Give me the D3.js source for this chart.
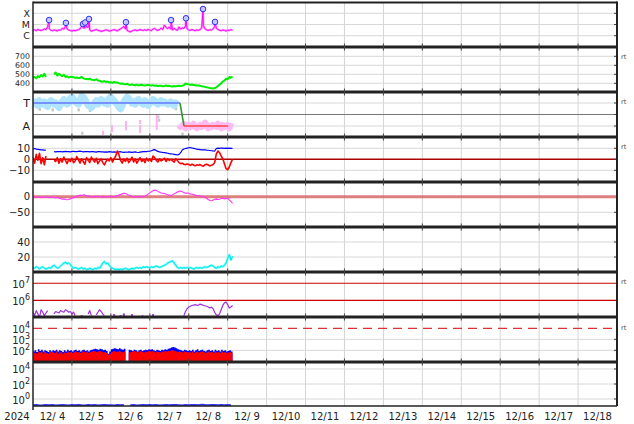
<!DOCTYPE html>
<html><head><meta charset="utf-8">
<script src="https://cdn.jsdelivr.net/npm/d3@7"></script>
<style>body{margin:0;background:#fff}svg{display:block}text{font-family:"DejaVu Sans",sans-serif}</style>
</head><body><svg id="c" width="634" height="424"></svg>
<script>
// ---------- DATA (hourly from 2024-12-04 00:00 UT, index = hour) ----------
const dayLabels = ["12/ 4","12/ 5","12/ 6","12/ 7","12/ 8","12/ 9","12/10","12/11","12/12","12/13","12/14","12/15","12/16","12/17","12/18"];
const yearLabel = "2024";
const xrayLevels = ["X","M","C"];
// X-ray background flux in C-class units (x1e-6 W/m2)
const xrayBaseC = [
 3.0,3.4,2.8,3.6,3.1,2.9,3.3,4.0,3.5,6.0,4.2,3.1,
 2.8,3.2,3.0,2.7,3.3,3.1,4.5,3.8,7.0,4.0,3.2,2.9,
 2.6,3.0,2.8,3.1,3.4,4.2,6.5,5.0,4.8,6.0,5.5,3.2,
 2.5,2.9,3.1,3.6,3.0,2.8,2.4,2.7,2.9,3.3,3.0,2.6,
 2.8,3.1,3.5,3.0,2.7,3.4,4.1,5.2,6.8,4.0,3.0,2.5,
 2.2,2.6,3.0,3.3,2.8,3.1,3.5,3.2,2.9,3.4,3.0,3.6,
 3.2,2.8,3.9,4.4,3.3,3.0,3.6,4.8,3.5,9.0,5.5,4.2,
 6.0,3.8,3.2,4.5,3.5,3.0,6.0,3.8,5.0,4.4,7.5,4.0,
 3.2,3.0,3.5,3.1,2.8,3.3,3.0,3.6,5.0,8.0,4.2,3.3,
 3.0,3.4,3.2,4.0,7.0,4.5,3.6,3.1,2.8,3.3,3.0,2.6,
 3.2,2.9,3.4,3.1];
// flare peaks
const flareHours = [9.9,20.3,30.8,32.1,34.5,57.3,85.1,94.3,104.8,112.2];
const flareFlux  = [2.5e-5,1.4e-5,1.1e-5,1.5e-5,3.1e-5,1.6e-5,2.5e-5,3.6e-5,2.4e-4,1.7e-5];
// solar wind speed km/s
const windSpeed = [
 462,470,455,480,468,492,475,505,470,null,null,null,
 null,500,520,485,505,490,480,495,470,478,465,472,
 470,468,460,465,458,462,470,455,450,448,445,452,
 440,438,435,445,432,428,420,418,425,415,420,410,
 412,405,415,408,410,400,395,398,392,388,395,385,
 382,388,380,378,385,376,380,383,378,375,380,382,
 378,375,380,372,376,370,374,372,368,371,375,370,
 372,368,365,370,366,369,372,370,373,380,398,392,
 388,384,386,380,378,375,377,372,368,365,360,355,
 352,348,345,342,348,355,370,385,400,420,430,452,
 445,470,462,475];
// IMF sector (T = +1, A = -1)
const sectorAxis = ["T","A"];
const imfToward = [
 1.0,1.1,0.9,0.8,1.2,1.0,0.9,1.1,0.8,0.7,1.0,1.2,
 1.1,0.9,1.0,0.8,0.6,0.9,1.1,1.3,1.2,0.9,1.0,1.4,
 1.5,1.3,1.1,1.0,0.9,1.2,1.6,1.5,1.3,1.0,0.8,0.7,
 0.6,0.8,1.0,1.2,0.9,1.1,1.3,1.2,1.0,1.1,0.9,1.4,
 1.5,1.3,1.2,1.0,0.9,0.6,0.5,0.8,1.1,1.3,1.5,1.4,
 1.2,1.0,1.1,0.9,1.2,1.3,1.1,1.0,0.9,1.2,1.0,0.8,
 1.0,1.1,1.3,1.2,1.0,0.9,1.1,1.2,1.0,1.1,1.0,0.9,
 1.0,1.1,0.9,0.8,1.0,0.9];
const imfAwayStart = 90;
const imfAway = [
 -0.9,-1.1,-1.0,-0.8,-1.2,-1.0,-0.9,-1.1,-1.0,-0.8,-1.1,-1.2,
 -1.0,-0.9,-1.1,-1.0,-0.7,-0.9,-1.2,-1.0,-1.1,-0.9,-1.0,-1.1,
 -0.8,-1.0,-1.2,-0.9,-1.1,-1.0,-0.9,-1.2,-1.0,-1.1];
const imfPinkHours = [43.2,48.7,48.7,57.3,57.3,57.3,66,66,66,76.3,76.3,76.3,76.3];
const imfPinkVals  = [-1.6,-1.35,-1.1,-0.9,-1.2,-0.74,-0.65,-1.09,-1.43,-0.22,-0.56,-0.91,-1.17];
const imfGreyHours = [30.2,77,77.5,28,35,55,58,88,92,4,12,47];
const imfGreyVals  = [-1.63,-0.22,-0.5,0.4,0.35,0.45,1.95,0.5,-1.7,0.45,0.4,1.9];
const sectorHours  = [0,90.6,93.1,120.2];
const sectorValues = [1,1,-1,-1];
// IMF Bt and Bz (nT)
const imfBt = [
 9.5,9.8,9.2,9.0,8.8,8.6,8.5,8.4,8.2,null,null,null,
 null,6.9,6.8,7.0,6.9,7.1,6.8,7.0,7.2,6.9,7.0,6.8,
 7.1,7.3,7.0,6.9,7.2,7.4,7.1,6.8,7.0,6.9,7.1,6.7,
 6.9,7.0,6.8,6.6,6.9,7.0,6.8,6.7,6.5,6.8,6.6,6.9,
 6.7,6.5,6.8,6.6,6.4,6.7,6.9,6.5,6.3,6.6,6.4,6.7,
 6.5,6.3,6.6,6.8,6.4,6.2,6.5,6.7,6.9,7.1,7.0,7.3,
 7.5,7.8,8.5,8.8,7.9,7.2,6.8,6.5,6.2,6.0,5.8,5.5,
 5.2,5.0,4.8,4.5,4.2,3.9,4.5,6.0,8.5,9.4,9.8,10.2,
 10.5,10.6,10.3,10.0,9.6,9.2,9.0,8.8,8.6,8.5,8.7,8.4,
 8.2,8.0,7.8,7.6,7.5,9.8,10.2,10.0,10.3,10.1,9.9,10.2,
 10.0,10.1,9.9,10.0];
const imfBz = [
 2.0,-3.5,4.5,-1.0,5.5,-4.0,1.5,-5.0,3.0,null,null,null,
 null,-1.0,-2.0,1.5,-3.5,0.5,-2.5,2.0,-1.0,-4.0,0.0,-2.0,
 1.0,-3.0,-1.5,2.5,-0.5,-3.5,0.5,-2.0,-4.5,1.5,-1.0,-3.0,
 2.0,-0.5,-2.5,1.0,-4.0,-1.5,0.5,-3.0,-5.0,-2.0,0.0,-1.5,
 1.5,-2.5,0.5,3.0,7.5,4.0,-1.0,-3.5,0.5,-2.0,1.0,-3.0,
 -1.0,2.0,-2.5,0.5,-3.5,-1.0,1.5,-2.0,0.0,-3.0,1.0,-1.5,
 0.5,-2.0,3.0,1.5,-1.0,-2.5,0.5,-1.5,-0.5,1.0,-2.0,0.5,
 -1.0,0.0,-1.5,-2.5,0.5,-1.0,-3.0,-4.0,-3.5,-4.5,-5.0,-4.2,
 -4.8,-5.5,-4.5,-5.2,-6.0,-5.0,-5.5,-4.8,-5.8,-6.2,-5.0,-4.5,
 -5.2,-6.0,-5.5,-4.8,-3.0,5.0,7.5,6.0,3.0,0.5,-4.0,-8.5,
 -9.5,-7.0,-3.0,0.0];
// Dst (nT)
const dst = [
 -1,0,-2,-1,0,-3,-2,-1,0,-2,-3,-2,
 -1,-3,-4,-2,-5,-6,-8,-7,-9,-10,-9,-7,
 -5,-3,-1,1,3,5,4,6,5,3,1,2,
 0,-1,1,0,2,0,-1,1,0,-2,0,1,
 2,0,-1,1,3,5,7,9,11,10,8,5,
 3,1,0,-1,0,1,0,-1,1,2,4,8,
 12,16,19,21,20,17,14,12,11,10,8,6,
 5,4,6,9,12,15,17,18,16,13,11,12,
 11,9,8,7,5,4,3,2,1,0,-2,-5,
 -9,-12,-13,-11,-8,-7,-9,-8,-6,-5,-7,-6,
 -5,-10,-16,-21];
// solar wind density-type index
const density = [
 6,5,7,6,4,6,7,5,4,5,6,5,
 8,9,7,5,6,8,10,12,13,11,12,10,
 7,5,6,5,4,5,6,4,5,3,4,5,
 4,3,5,4,6,5,8,12,14,11,12,9,
 6,5,4,3,4,3,4,3,4,5,4,3,
 4,5,4,5,6,5,6,5,7,6,7,6,
 6,7,6,7,8,7,6,7,8,9,10,12,
 13,14,15,12,9,6,5,6,5,6,5,6,
 5,6,5,4,5,6,5,6,5,6,7,6,
 7,8,9,8,6,5,7,6,8,7,9,12,
 18,23,16,21];
// >2 MeV electron flux (x1e5)
const electronFlux = [
 2.0,1.26,2.5,1.6,1.0,2.8,2.0,1.26,1.8,2.5,null,null,
 null,1.6,2.2,2.0,1.8,2.5,2.2,2.0,2.8,2.5,2.0,2.2,
 1.6,2.0,1.26,null,null,null,1.1,null,null,null,1.6,2.5,
 1.26,null,null,1.4,2.0,2.8,2.2,1.6,1.26,null,null,null,
 null,null,1.26,null,null,null,1.1,null,1.4,null,null,null,
 null,1.26,null,null,null,null,null,1.1,1.26,null,null,null,
 null,null,1.26,null,null,null,null,null,null,null,null,null,
 null,null,null,null,null,null,null,null,null,1.26,2.2,3.2,
 4.0,4.5,5.0,5.2,5.6,5.0,5.2,6.0,5.6,5.0,4.8,4.5,
 4.0,3.5,4.0,3.2,2.0,1.4,1.26,1.6,2.8,5.0,7.1,8.0,
 5.6,3.5,4.0,5.0];
// proton flux (log10) two channels
const protonBlueLog = [
 1.9,2.0,1.85,2.1,1.95,2.05,1.9,2.0,1.95,1.85,2.0,1.9,
 2.0,1.95,2.05,1.9,2.0,1.95,1.85,2.0,1.9,2.05,1.95,2.0,
 1.9,2.0,2.05,1.95,2.0,1.9,2.0,2.05,1.95,2.0,1.9,2.0,
 2.05,2.1,2.15,2.1,2.05,2.15,2.1,2.0,2.05,1.95,1.7,1.9,
 2.1,2.15,2.2,2.15,2.1,2.2,2.1,2.05,2.15,1.0,1.0,2.05,
 2.0,1.95,2.05,2.0,1.9,2.0,2.05,1.95,2.0,2.05,2.0,2.1,
 2.05,2.1,2.0,1.95,2.05,2.0,1.95,2.05,2.0,2.1,2.05,2.15,
 2.2,2.25,2.3,2.25,2.2,2.1,2.05,2.0,1.95,2.05,2.0,1.95,
 2.0,1.95,2.05,1.9,2.0,2.1,1.95,2.0,2.05,1.95,1.9,2.0,
 2.05,1.95,2.0,1.9,2.05,1.95,2.0,1.9,2.05,1.95,2.0,1.9,
 1.95,2.0,1.9,2.0];
const protonRedLog = [
 1.8,1.75,1.7,1.9,1.8,1.85,1.7,1.85,1.75,1.7,1.85,1.8,
 1.85,1.75,1.9,1.7,1.8,1.85,1.7,1.8,1.75,1.9,1.8,1.85,
 1.75,1.85,1.9,1.8,1.85,1.75,1.9,1.85,1.8,1.9,1.75,1.85,
 1.9,1.95,1.9,1.85,1.9,1.95,1.85,1.8,1.85,1.75,1.6,1.7,
 1.85,1.9,1.95,1.85,1.9,1.95,1.85,1.8,1.9,1.0,1.0,1.8,
 1.85,1.9,1.95,1.85,1.8,1.9,1.95,1.85,1.8,1.9,1.85,1.95,
 1.9,1.95,1.85,1.8,1.9,1.85,1.8,1.9,1.85,1.95,1.9,1.95,
 1.95,2.0,2.0,1.95,1.9,1.85,1.9,1.85,1.8,1.9,1.85,1.8,
 1.85,1.8,1.9,1.75,1.85,1.9,1.8,1.85,1.9,1.8,1.75,1.85,
 1.9,1.8,1.85,1.75,1.9,1.8,1.85,1.75,1.9,1.8,1.85,1.75,
 1.8,1.85,1.75,1.85];
// bottom panel flux (2-hourly)
const bottomFlux = [
 0.15,0.16,0.14,0.15,0.17,0.15,0.16,0.14,0.15,0.16,0.15,0.14,
 0.16,0.15,0.17,0.15,0.14,0.16,0.15,0.16,0.14,0.15,0.16,0.15,
 0.15,0.14,0.16,0.15,0.17,null,0.15,0.16,0.14,0.15,0.16,0.15,
 0.17,0.15,0.16,0.14,0.15,0.16,0.15,0.17,0.16,0.15,0.14,0.16,
 0.15,0.17,0.16,0.15,0.18,0.16,0.15,0.17,0.16,0.15,0.16,0.15,
 0.16,0.15];

// ---------- LAYOUT ----------
const svg = d3.select("#c");
const L = 33, R = 617;
const edges = [2.5,47,92,137,182,227,272,317,362,406];
const T0 = Date.UTC(2024,11,4);
const hd = h => new Date(T0 + h*3600000);
const x = d3.scaleUtc().domain([hd(0), new Date(Date.UTC(2024,11,19))]).range([L,R]);

const defs = svg.append("defs");
edges.slice(0,-1).forEach((t,i)=>{
  defs.append("clipPath").attr("id","cp"+i).append("rect")
    .attr("x",L).attr("y",t).attr("width",R-L).attr("height",edges[i+1]-t);
});

// scales
const y1 = d3.scaleLog().domain([1e-7,1e-3]).range([46.9,2.1]);
const y2 = d3.scaleLinear().domain([300,800]).range([92.3,47.3]);
const y3 = d3.scaleLinear().domain([-2,2]).range([137.5,91.5]);
const y4 = d3.scaleLinear().domain([-20,20]).range([181.3,137.3]);
const y5 = d3.scaleLinear().domain([-97,47]).range([227,182]);
const y6 = d3.scaleLinear().domain([0,60]).range([272,227]);
const y7 = d3.scaleLog().domain([Math.pow(10,5.02),Math.pow(10,7.66)]).range([317,272]);
const y8 = d3.scaleLog().domain([Math.pow(10,0.94),Math.pow(10,5.03)]).range([362,317]);
const y9 = d3.scaleLog().domain([Math.pow(10,-0.93),Math.pow(10,4.93)]).range([406,362]);

const grid = svg.append("g");
// vertical day grid
const days = d3.utcDay.range(new Date(Date.UTC(2024,11,5)), new Date(Date.UTC(2024,11,19)));
grid.selectAll("line.v").data(days).join("line")
  .attr("x1",d=>x(d)).attr("x2",d=>x(d)).attr("y1",edges[0]).attr("y2",edges[9])
  .attr("stroke","#d4d4d4").attr("stroke-width",1);
function hgrid(scale, vals, color, w, dash){
  vals.forEach(v=>{
    const l = grid.append("line").attr("x1",L).attr("x2",R).attr("y1",scale(v)).attr("y2",scale(v))
      .attr("stroke",color).attr("stroke-width",w);
    if(dash) l.attr("stroke-dasharray",dash);
    grid.append("line").attr("x1",R-3).attr("x2",R).attr("y1",scale(v)).attr("y2",scale(v)).attr("stroke","#444");
  });
}
hgrid(y1,[1e-4,1e-5,1e-6],"#d8d8d8",1);
hgrid(y2,[400,500,600,700],"#d8d8d8",1);
hgrid(y3,[1,-1],"#d8d8d8",1);
hgrid(y3,[0],"#777",1.2);
hgrid(y4,[10,-10],"#d8d8d8",1);
hgrid(y4,[0],"#aa0000",1.5);
hgrid(y5,[-50],"#d8d8d8",1);
hgrid(y6,[20,40],"#d8d8d8",1);
hgrid(y8,[1e2,1e3],"#d8d8d8",1);
hgrid(y9,[1,1e2,1e4],"#d8d8d8",1);

const data = svg.append("g");
function panel(i){ return data.append("g").attr("clip-path","url(#cp"+i+")"); }
function series(vals, step, start){ return vals.map((v,k)=>({h:(start||0)+k*step, v})); }
function line(g, pts, ys, color, w){
  g.append("path").datum(pts)
   .attr("d", d3.line().defined(d=>d.v!=null).x(d=>x(hd(d.h))).y(d=>ys(d.v)))
   .attr("fill","none").attr("stroke",color).attr("stroke-width",w).attr("stroke-linejoin","round");
}

// panel 1 X-ray
{
  const g = panel(0);
  const pts = series(xrayBaseC,1).map(d=>({h:d.h, v:d.v*1e-6}))
    .concat(flareHours.map((h,k)=>({h, v:flareFlux[k]}))).sort((a,b)=>a.h-b.h);
  line(g, pts, y1, "#ff99ff", 2.2);
  line(g, pts, y1, "#ff00ff", 1);
  g.selectAll("circle").data(flareHours).join("circle")
   .attr("cx",h=>x(hd(h))).attr("cy",(h,k)=>y1(flareFlux[k])).attr("r",2.8)
   .attr("fill","#c8c8ff").attr("stroke","#3030ff").attr("stroke-width",1);
}
// panel 2 speed
{
  const g = panel(1);
  line(g, series(windSpeed,1), y2, "#00ee00", 2);
}
// panel 3 sector
{
  const g = panel(2);
  g.selectAll("rect.gr").data(imfGreyHours).join("rect")
   .attr("x",h=>x(hd(h))-1).attr("y",(h,k)=>y3(imfGreyVals[k])-1.5).attr("width",2.5).attr("height",3)
   .attr("fill","#c8c8c8");
  const tb = series(imfToward,1);
  g.append("path").datum(tb).attr("d",d3.line().x(d=>x(hd(d.h))).y(d=>y3(d.v)))
   .attr("fill","none").attr("stroke","#b0e4ff").attr("stroke-width",7).attr("stroke-linejoin","round");
  const ab = series(imfAway,1,imfAwayStart);
  g.append("path").datum(ab).attr("d",d3.line().x(d=>x(hd(d.h))).y(d=>y3(d.v)))
   .attr("fill","none").attr("stroke","#ffbaf2").attr("stroke-width",6).attr("stroke-linejoin","round");
  g.selectAll("rect.pk").data(imfPinkHours).join("rect")
   .attr("x",h=>x(hd(h))-1).attr("y",(h,k)=>y3(imfPinkVals[k])-2).attr("width",2).attr("height",4)
   .attr("fill","#ffb0f0");
  const segColors = ["#6677ff","#339933","#ff4444"];
  for(let k=0;k<sectorHours.length-1;k++){
    g.append("line").attr("x1",x(hd(sectorHours[k]))).attr("x2",x(hd(sectorHours[k+1])))
     .attr("y1",y3(sectorValues[k])).attr("y2",y3(sectorValues[k+1]))
     .attr("stroke",segColors[k]).attr("stroke-width",1.6);
  }
}
// panel 4 IMF
{
  const g = panel(3);
  line(g, series(imfBt,1), y4, "#0000ff", 1.2);
  line(g, series(imfBz,1), y4, "#ff0000", 1.6);
}
// panel 5 Dst
{
  const g = panel(4);
  g.append("line").attr("x1",L).attr("x2",R).attr("y1",y5(0)).attr("y2",y5(0))
   .attr("stroke","#d96868").attr("stroke-width",3).attr("opacity",0.85);
  line(g, series(dst,1), y5, "#ff33ff", 1.1);
}
// panel 6 density
{
  const g = panel(5);
  line(g, series(density,1), y6, "#66ffff", 2.2);
  line(g, series(density,1), y6, "#00e5e5", 1);
}
// panel 7 electrons
{
  const g = panel(6);
  [1e7,1e6].forEach(v=>g.append("line").attr("x1",L).attr("x2",R).attr("y1",y7(v)).attr("y2",y7(v))
     .attr("stroke","#cc0000").attr("stroke-width",1.2));
  const pts = series(electronFlux,1).map(d=>({h:d.h, v:d.v==null?null:d.v*1e5}));
  line(g, pts, y7, "#a030e0", 1.2);
  const iso = pts.filter((d,k)=>d.v!=null && (k===0||pts[k-1].v==null) && (k===pts.length-1||pts[k+1].v==null));
  g.selectAll("rect.iso").data(iso).join("rect").attr("x",d=>x(hd(d.h))-1).attr("y",d=>y7(d.v)-1.5)
   .attr("width",2).attr("height",3).attr("fill","#a030e0");
}
// panel 8 protons
{
  const g = panel(7);
  const base = y8.range()[0];
  const area = d3.area().curve(d3.curveStepAfter).x(d=>x(hd(d.h))).y0(base).y1(d=>y8(Math.pow(10,d.v)));
  g.append("path").datum(series(protonBlueLog,1)).attr("d",area).attr("fill","#0000ff");
  g.append("path").datum(series(protonRedLog,1)).attr("d",area).attr("fill","#ff0000");
  g.append("line").attr("x1",L).attr("x2",R).attr("y1",y8(1e4)).attr("y2",y8(1e4))
   .attr("stroke","#dd3333").attr("stroke-width",1.2).attr("stroke-dasharray","9,6");
}
// panel 9
{
  const g = panel(8);
  line(g, series(bottomFlux,2), y9, "#3333ff", 1.8);
}

// ---------- frames ----------
const fr = svg.append("g");
edges.slice(1,-1).forEach(e=>{
  fr.append("line").attr("x1",L).attr("x2",R).attr("y1",e).attr("y2",e).attr("stroke","#222").attr("stroke-width",3);
  days.forEach(d=>fr.append("line").attr("x1",x(d)).attr("x2",x(d)).attr("y1",e-3.5).attr("y2",e+3.5).attr("stroke","#444"));
});
fr.append("line").attr("x1",L).attr("x2",R).attr("y1",edges[0]).attr("y2",edges[0]).attr("stroke","#222").attr("stroke-width",2);
fr.append("line").attr("x1",L).attr("x2",R).attr("y1",edges[9]).attr("y2",edges[9]).attr("stroke","#222").attr("stroke-width",1.5);
fr.append("line").attr("x1",L).attr("x2",L).attr("y1",edges[0]-1).attr("y2",edges[9]+4).attr("stroke","#222").attr("stroke-width",1.5);
fr.append("line").attr("x1",R).attr("x2",R).attr("y1",edges[0]-1).attr("y2",edges[9]).attr("stroke","#222").attr("stroke-width",2);

// ---------- labels ----------
const lab = svg.append("g").attr("fill","#222");
function tl(y, base, sup, size){
  const t = lab.append("text").attr("x",30).attr("y",y).attr("dy",sup!=null?"0.45em":"0.36em")
    .attr("text-anchor","end").attr("font-size",size||10).text(base);
  if(sup!=null) t.append("tspan").attr("dy","-0.55em").attr("font-size",8).text(sup);
}
[1e-4,1e-5,1e-6].forEach((v,k)=>tl(y1(v), xrayLevels[k], null, 9.5));
[700,600,500,400].forEach(v=>tl(y2(v), String(v), null, 7.8));
tl(y3(1), sectorAxis[0], null, 11); tl(y3(-1), sectorAxis[1], null, 11);
[10,0,-10].forEach(v=>tl(y4(v), v<0?"\u221210":String(v)));
[0,-50].forEach(v=>tl(y5(v), v<0?"\u221250":String(v)));
[40,20].forEach(v=>tl(y6(v), String(v)));
tl(y7(1e7),"10","7"); tl(y7(1e6),"10","6");
tl(y8(1e4),"10","4"); tl(y8(1e3),"10","3"); tl(y8(1e2),"10","2");
tl(y9(1e4),"10","4"); tl(y9(1e2),"10","2"); tl(y9(1),"10","0");

// right-side tags
[[57,"rt"],[102,"rt"],[147,"rt"],[282,"rt"],[328,"rt"]].forEach(([y,s])=>
  lab.append("text").attr("x",621).attr("y",y).attr("dy","0.35em").attr("font-size",6.5).attr("fill","#444").text(s));

// date axis
const noon = dayLabels.map((s,k)=>new Date(Date.UTC(2024,11,4+k,12)));
lab.selectAll("text.d").data(noon).join("text").attr("x",d=>x(d)).attr("y",420)
  .attr("text-anchor","middle").attr("font-size",10).text((d,k)=>dayLabels[k]);
lab.append("text").attr("x",17).attr("y",420).attr("text-anchor","middle").attr("font-size",10).text(yearLabel);
</script></body></html>
